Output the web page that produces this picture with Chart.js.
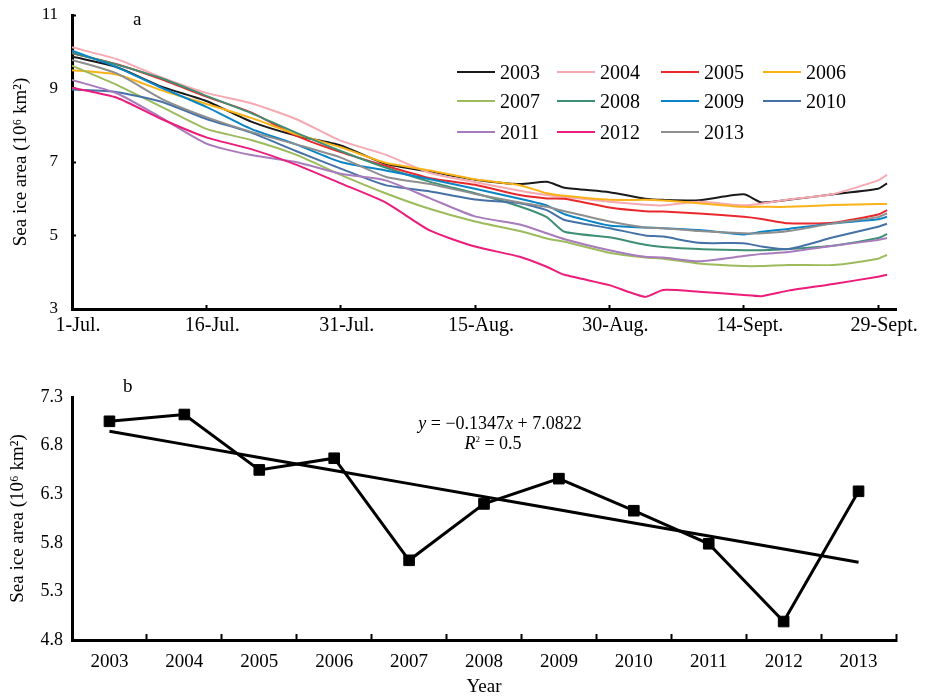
<!DOCTYPE html>
<html>
<head>
<meta charset="utf-8">
<script src="https://cdn.jsdelivr.net/npm/chart.js@4.4.1/dist/chart.umd.min.js"></script>
<style>
html,body{margin:0;padding:0;background:#fff;}
body{width:926px;height:698px;position:relative;overflow:hidden;font-family:'Liberation Serif','Times New Roman',serif;color:#000;}
#wa{position:absolute;left:0;top:0;width:926px;height:345px;}
#wb{position:absolute;left:0;top:350px;width:926px;height:348px;}
.txt{position:absolute;white-space:nowrap;line-height:1;}
.leg-line{position:absolute;width:38px;height:2px;}
.leg-text{position:absolute;font-family:'Liberation Serif',serif;font-size:20px;line-height:1;}
</style>
</head>
<body>
<div id="wa"><canvas id="ca" width="926" height="345"></canvas></div>
<div id="wb"><canvas id="cb" width="926" height="348"></canvas></div>
<div class="txt" style="left:133px;top:9px;font-size:19px;">a</div>
<div class="txt" style="left:123px;top:376px;font-size:19px;">b</div>
<div class="txt" style="left:400px;width:200px;text-align:center;top:414px;font-size:18px;"><i>y</i> = −0.1347<i>x</i> + 7.0822</div>
<div class="txt" style="left:443px;width:100px;text-align:center;top:434px;font-size:18px;"><i>R</i><sup style="font-size:9px;vertical-align:7px;">2</sup> = 0.5</div>
<div id="legend"></div>
<script>
// ---------- Panel a data (daily sea ice area, 10^6 km^2) ----------
const years = ['2003','2004','2005','2006','2007','2008','2009','2010','2011','2012','2013'];
const dateLabels = ['1-Jul.','16-Jul.','31-Jul.','15-Aug.','30-Aug.','14-Sept.','29-Sept.'];
const dateTickDays = [0,15,30,45,60,75,90];
// day offsets from 1 July
const days = [0,5,10,15,20,25,30,35,40,45,50,53,55,60,64,66,70,75,77,80,85,90,91];
const area2003 = [9.87,9.58,9.05,8.66,8.10,7.72,7.45,6.95,6.74,6.52,6.40,6.46,6.30,6.18,6.00,5.97,5.96,6.12,5.90,5.97,6.12,6.27,6.42];
const area2004 = [10.12,9.80,9.30,8.88,8.60,8.17,7.58,7.20,6.70,6.45,6.22,6.10,6.05,5.92,5.84,5.82,5.92,5.82,5.87,5.98,6.13,6.50,6.65];
const area2005 = [9.96,9.66,9.25,8.78,8.35,7.72,7.27,6.90,6.56,6.38,6.10,6.01,6.00,5.76,5.66,5.65,5.60,5.51,5.45,5.33,5.35,5.57,5.69];
const area2006 = [9.50,9.38,8.95,8.58,8.20,7.76,7.40,6.98,6.77,6.53,6.37,6.15,6.08,5.97,5.97,5.95,5.88,5.78,5.78,5.78,5.83,5.86,5.86];
const area2007 = [9.62,9.10,8.50,7.90,7.60,7.20,6.65,6.15,5.72,5.38,5.12,4.92,4.83,4.53,4.40,4.37,4.24,4.17,4.17,4.20,4.20,4.37,4.47];
const area2008 = [9.97,9.65,9.28,8.80,8.33,7.80,7.30,6.85,6.46,6.15,5.79,5.50,5.10,4.95,4.75,4.69,4.63,4.60,4.60,4.63,4.72,4.93,5.04];
const area2009 = [10.03,9.58,9.02,8.50,7.90,7.48,7.00,6.77,6.53,6.27,6.00,5.82,5.58,5.27,5.22,5.20,5.15,5.03,5.10,5.18,5.33,5.44,5.51];
const area2010 = [8.97,8.90,8.64,8.17,7.80,7.30,6.82,6.37,6.20,5.98,5.88,5.69,5.42,5.20,5.00,4.97,4.80,4.79,4.70,4.63,4.95,5.24,5.32];
const area2011 = [9.23,8.87,8.20,7.50,7.19,7.00,6.68,6.50,6.01,5.52,5.30,5.06,4.90,4.60,4.42,4.40,4.30,4.44,4.50,4.55,4.72,4.88,4.93];
const area2012 = [9.02,8.75,8.17,7.67,7.35,6.93,6.42,5.90,5.13,4.70,4.42,4.15,3.93,3.65,3.33,3.52,3.47,3.38,3.35,3.50,3.68,3.88,3.93];
const area2013 = [9.78,9.41,8.72,8.22,7.82,7.48,7.12,6.60,6.40,6.13,5.90,5.78,5.66,5.38,5.22,5.20,5.12,5.06,5.06,5.12,5.33,5.50,5.60];
const dailyArea = [area2003,area2004,area2005,area2006,area2007,area2008,area2009,area2010,area2011,area2012,area2013];

// ---------- Panel b data (mean sea ice area) ----------
const yearLabels = ['2003','2004','2005','2006','2007','2008','2009','2010','2011','2012','2013'];
const annualArea = [7.05,7.12,6.55,6.67,5.62,6.20,6.46,6.13,5.79,4.99,6.33];
const trendSlope = -0.1347;
const trendIntercept = 7.0822;

// ---------- styles ----------
const seriesColors = ['#1a1a1a','#f7a9b2','#e8282c','#fbb218','#9cbb5c','#3f8f74','#0b84c5','#4671a7','#a87cbc','#ec1c7a','#8e8e8e'];
const serif = "'Liberation Serif', 'Times New Roman', serif";

// legend (HTML)
const legendCols = [457,557,661,763];
const legendRows = [71.5,101,132];
const legendEl = document.getElementById('legend');
years.forEach((yr,i)=>{
  const x = legendCols[i%4], y = legendRows[Math.floor(i/4)];
  const ln = document.createElement('div');
  ln.className='leg-line'; ln.style.left=x+'px'; ln.style.top=(y-1)+'px'; ln.style.background=seriesColors[i];
  const tx = document.createElement('div');
  tx.className='leg-text'; tx.style.left=(x+43)+'px'; tx.style.top=(y-10)+'px'; tx.textContent=yr;
  legendEl.appendChild(ln); legendEl.appendChild(tx);
});

Chart.defaults.color = '#000';

// ---------- Panel a ----------
new Chart(document.getElementById('ca'), {
  type: 'line',
  data: {
    datasets: years.map((yr,i)=>({
      label: yr,
      data: days.map((d,k)=>({x:d, y:dailyArea[i][k]})),
      borderColor: seriesColors[i],
      borderWidth: 2,
      pointRadius: 0,
      tension: 0.2,
      fill: false,
      order: years.length - i
    }))
  },
  options: {
    responsive: false, animation: false,
    layout: {padding: {top:15, right:30, left:0, bottom:0}},
    plugins: {legend:{display:false}, tooltip:{enabled:false}},
    scales: {
      x: {
        type: 'linear', min: 0, max: 92,
        afterBuildTicks: s => { s.ticks = dateTickDays.map(v => ({value:v})); },
        afterFit: s => { s.height = 36; s.paddingLeft = 0; s.paddingRight = 0; },
        ticks: {stepSize:15, autoSkip:false, maxRotation:0, padding:9, labelOffset:6,
          font:{family:serif, size:20},
          callback: v => dateLabels[dateTickDays.indexOf(v)]},
        grid: {drawOnChartArea:false, drawTicks:true, tickLength:-4, tickWidth:2, color:'#000'},
        border: {color:'#000', width:3}
      },
      y: {
        min: 3, max: 11,
        afterFit: s => { s.width = 72; s.paddingTop = 8; s.paddingBottom = 8; },
        ticks: {stepSize:2, padding:18, font:{family:serif, size:17}},
        grid: {drawOnChartArea:false, drawTicks:true, tickLength:-4, tickWidth:2, color:'#000'},
        border: {color:'#000', width:3},
        title: {display:true, text:'Sea ice area (10⁶ km²)', font:{family:serif, size:19}, padding:{top:10,bottom:0}}
      }
    }
  }
});

// ---------- Panel b ----------
const trendValues = yearLabels.map((_,i)=> trendIntercept + trendSlope*(i+1));
new Chart(document.getElementById('cb'), {
  type: 'line',
  data: {
    labels: yearLabels,
    datasets: [
      {label:'Mean', data: annualArea, borderColor:'#000', borderWidth:3, tension:0,
       pointStyle:'rect', pointRadius:7.5, pointBackgroundColor:'#000', pointBorderColor:'#000', pointBorderWidth:1, order:0},
      {label:'Trend', data: trendValues, borderColor:'#000', borderWidth:3, pointRadius:0, tension:0, order:1}
    ]
  },
  options: {
    responsive: false, animation: false,
    layout: {padding: {top:47, right:30, left:0, bottom:0}},
    plugins: {legend:{display:false}, tooltip:{enabled:false}},
    scales: {
      x: {
        type: 'category', offset: true,
        afterFit: s => { s.height = 58; },
        ticks: {padding:17, autoSkip:false, maxRotation:0, font:{family:serif, size:19}},
        grid: {offset:true, drawOnChartArea:false, drawTicks:true, tickLength:-6, tickWidth:2, color:'#000'},
        border: {color:'#000', width:3},
        title: {display:true, text:'Year', font:{family:serif, size:19}, padding:{top:0,bottom:0}}
      },
      y: {
        min: 4.8, max: 7.3,
        afterFit: s => { s.width = 72; },
        ticks: {stepSize:0.5, padding:9, font:{family:serif, size:18}, callback: v => Number(v).toFixed(1)},
        grid: {drawOnChartArea:false, drawTicks:false},
        border: {color:'#000', width:3},
        title: {display:true, text:'Sea ice area (10⁶ km²)', font:{family:serif, size:19}, padding:{top:7,bottom:0}}
      }
    }
  }
});
</script>
</body>
</html>
